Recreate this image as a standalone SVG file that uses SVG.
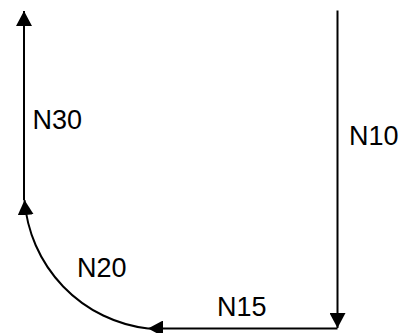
<svg xmlns="http://www.w3.org/2000/svg" width="405" height="333" viewBox="0 0 405 333">
<style>
.seg{fill:none;stroke:#000;stroke-width:2;marker-end:url(#ah)}
.lbl{font-family:"Liberation Sans",Arial,sans-serif;font-size:27px;fill:#000}
</style>
<defs>
<marker id="ah" markerUnits="userSpaceOnUse" markerWidth="15" markerHeight="16" refX="15" refY="8" orient="auto" viewBox="0 0 15 16">
<path d="M0,0 L15,8 L0,16 z" fill="#000"/>
</marker>
</defs>
<rect width="405" height="333" fill="#fff"/>
<g id="connectors">
<path id="N10" class="seg" d="M337.5,10.5 L337.5,328"/>
<path id="N15" class="seg" d="M337.5,328.5 L148,328.5"/>
<path id="N20" class="seg" d="M148,328.5 A140 140 0 0 1 24.5,200"/>
<path id="N30" class="seg" d="M24,200 L24,11"/>
</g>
<g id="labels">
<text class="lbl" x="32.5" y="129">N30</text>
<text class="lbl" x="349" y="145">N10</text>
<text class="lbl" x="77" y="277">N20</text>
<text class="lbl" x="217" y="316">N15</text>
</g>
</svg>
